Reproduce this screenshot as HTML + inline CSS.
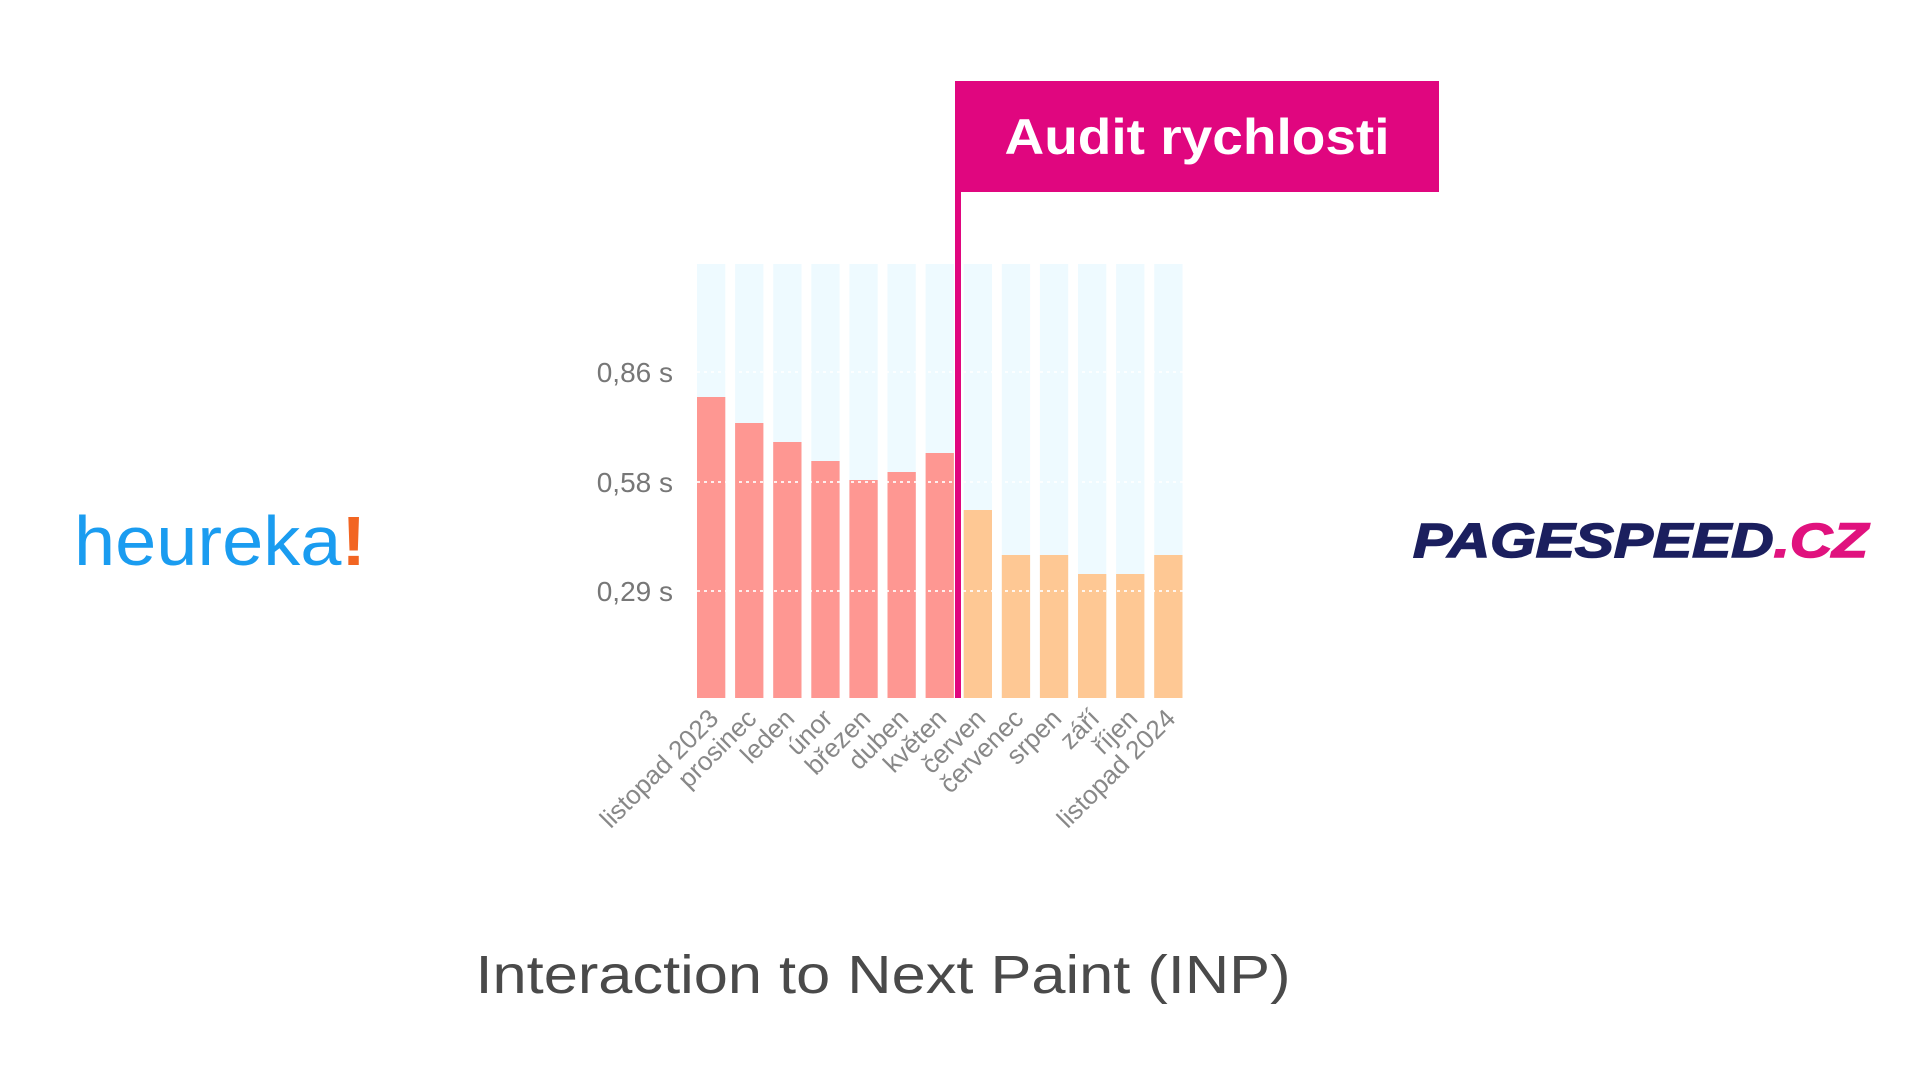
<!DOCTYPE html>
<html><head><meta charset="utf-8"><style>
html,body{margin:0;padding:0;background:#fff;}
svg{display:block;}
</style></head><body>
<svg width="1920" height="1074" viewBox="0 0 1920 1074" xmlns="http://www.w3.org/2000/svg" font-family="Liberation Sans, sans-serif">
<rect width="1920" height="1074" fill="#fff"/>
<g fill="#eefaff">
<rect x="697" y="264" width="28.3" height="434"/><rect x="735.1" y="264" width="28.3" height="434"/><rect x="773.2" y="264" width="28.3" height="434"/><rect x="811.3" y="264" width="28.3" height="434"/><rect x="849.4" y="264" width="28.3" height="434"/><rect x="887.5" y="264" width="28.3" height="434"/><rect x="925.6" y="264" width="28.3" height="434"/><rect x="963.7" y="264" width="28.3" height="434"/><rect x="1001.8" y="264" width="28.3" height="434"/><rect x="1039.9" y="264" width="28.3" height="434"/><rect x="1078" y="264" width="28.3" height="434"/><rect x="1116.1" y="264" width="28.3" height="434"/><rect x="1154.2" y="264" width="28.3" height="434"/>
</g>
<g fill="#fe9792">
<rect x="697" y="397" width="28.3" height="301"/><rect x="735.1" y="423" width="28.3" height="275"/><rect x="773.2" y="442" width="28.3" height="256"/><rect x="811.3" y="461" width="28.3" height="237"/><rect x="849.4" y="480" width="28.3" height="218"/><rect x="887.5" y="472" width="28.3" height="226"/><rect x="925.6" y="453" width="28.3" height="245"/>
</g>
<g fill="#fec894">
<rect x="963.7" y="510" width="28.3" height="188"/><rect x="1001.8" y="555" width="28.3" height="143"/><rect x="1039.9" y="555" width="28.3" height="143"/><rect x="1078" y="574" width="28.3" height="124"/><rect x="1116.1" y="574" width="28.3" height="124"/><rect x="1154.2" y="555" width="28.3" height="143"/>
</g>
<g stroke="#ffffff" stroke-width="2" stroke-dasharray="3,4" opacity="0.85">
<line x1="697" y1="372" x2="1183" y2="372"/><line x1="697" y1="482" x2="1183" y2="482"/><line x1="697" y1="591" x2="1183" y2="591"/>
</g>
<g fill="#777" font-size="28" text-anchor="end">
<text x="673" y="382">0,86 s</text><text x="673" y="492">0,58 s</text><text x="673" y="601">0,29 s</text>
</g>
<g fill="#888" font-size="26" text-anchor="end">
<text transform="translate(720,720) rotate(-45)">listopad 2023</text>
<text transform="translate(758,720) rotate(-45)">prosinec</text>
<text transform="translate(796,720) rotate(-45)">leden</text>
<text transform="translate(834,720) rotate(-45)">únor</text>
<text transform="translate(872,720) rotate(-45)">březen</text>
<text transform="translate(910,720) rotate(-45)">duben</text>
<text transform="translate(948,720) rotate(-45)">květen</text>
<text transform="translate(987,720) rotate(-45)">červen</text>
<text transform="translate(1025,720) rotate(-45)">červenec</text>
<text transform="translate(1063,720) rotate(-45)">srpen</text>
<text transform="translate(1101,720) rotate(-45)">září</text>
<text transform="translate(1139,720) rotate(-45)">říjen</text>
<text transform="translate(1177,720) rotate(-45)">listopad 2024</text>
</g>
<rect x="955" y="81" width="484" height="111" fill="#e0067f"/>
<rect x="955" y="81" width="6" height="617" fill="#e0067f"/>
<text x="1197" y="154" fill="#fff" font-size="50" font-weight="bold" text-anchor="middle" textLength="385" lengthAdjust="spacingAndGlyphs">Audit rychlosti</text>
<text x="74" y="565" font-size="70" fill="#1a9cf0" textLength="292" lengthAdjust="spacingAndGlyphs">heureka<tspan fill="#f26522" font-weight="bold">!</tspan></text>
<text x="1413" y="557" font-size="48" font-weight="bold" font-style="italic" fill="#1b1f5e" stroke="#1b1f5e" stroke-width="1.5" textLength="455" lengthAdjust="spacingAndGlyphs">PAGESPEED<tspan fill="#e0127e" stroke="#e0127e">.CZ</tspan></text>
<text x="883" y="993" fill="#4a4a4a" font-size="54" text-anchor="middle" textLength="815" lengthAdjust="spacingAndGlyphs">Interaction to Next Paint (INP)</text>
</svg>
</body></html>
